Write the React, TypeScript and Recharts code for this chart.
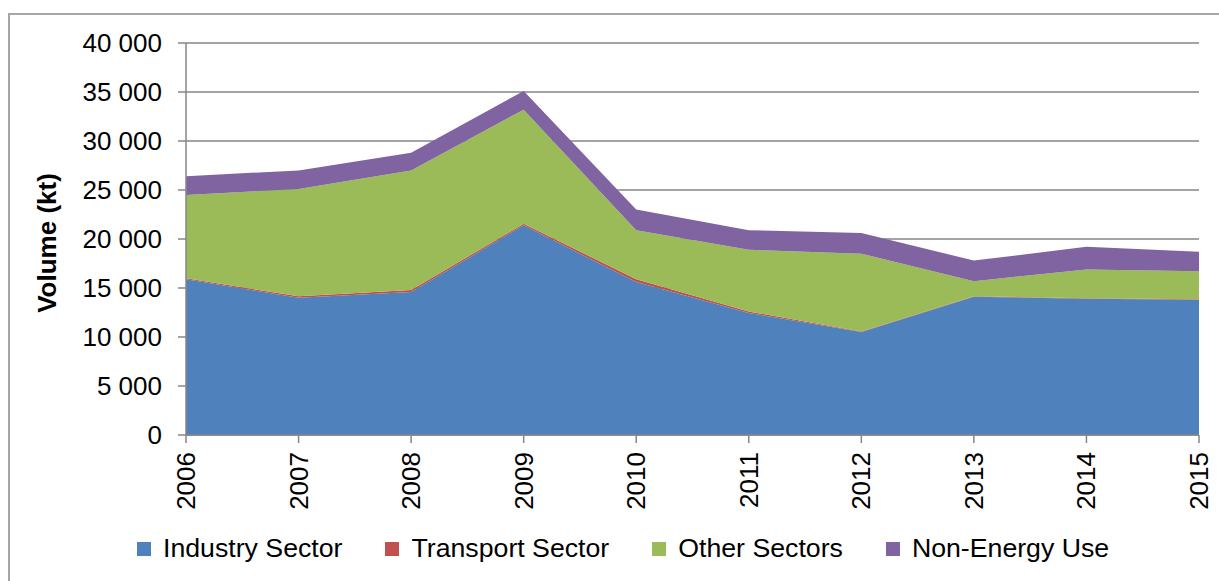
import { AreaChart, Area, XAxis, YAxis, CartesianGrid } from 'recharts'

const years = ['2006', '2007', '2008', '2009', '2010', '2011', '2012', '2013', '2014', '2015']
const industry = [15900, 14000, 14600, 21400, 15600, 12450, 10500, 14100, 13900, 13800]
const transport = [100, 150, 200, 150, 300, 150, 60, 50, 50, 50]
const other = [8500, 10950, 12200, 11650, 5000, 6300, 7940, 1550, 2950, 2850]
const nonEnergy = [1900, 1900, 1800, 1900, 2100, 2000, 2100, 2100, 2300, 2000]
const yTicks = [0, 5000, 10000, 15000, 20000, 25000, 30000, 35000, 40000]

const series = [
  { key: 'industry', name: 'Industry Sector', color: '#4F81BD' },
  { key: 'transport', name: 'Transport Sector', color: '#C0504D' },
  { key: 'other', name: 'Other Sectors', color: '#9BBB59' },
  { key: 'nonEnergy', name: 'Non-Energy Use', color: '#8064A2' },
]

const data = years.map((year, i) => ({
  year,
  industry: industry[i],
  transport: transport[i],
  other: other[i],
  nonEnergy: nonEnergy[i],
}))

const FONT = '"Liberation Sans", Arial, sans-serif'
const GREY = '#868686'

const formatY = (v: number) => (v === 0 ? '0' : `${v / 1000} 000`)

const XTick = ({ x, y, payload }: any) => (
  <text
    x={x}
    y={y}
    transform={`rotate(-90 ${x} ${y})`}
    textAnchor="end"
    dominantBaseline="central"
    fontSize={26}
    fontFamily={FONT}
    fill="#000"
  >
    {payload.value}
  </text>
)

const YLabel = ({ viewBox }: any) => {
  const cx = viewBox.x + 47
  const cy = viewBox.y + viewBox.height / 2 + 4
  return (
    <text
      x={cx}
      y={cy}
      transform={`rotate(-90 ${cx} ${cy})`}
      textAnchor="middle"
      dominantBaseline="central"
      fontSize={26}
      fontWeight="bold"
      fontFamily={FONT}
      fill="#000"
    >
      Volume (kt)
    </text>
  )
}

export default function App() {
  return (
    <div style={{ position: 'absolute', left: 0, top: 0, width: 1219, height: 581, overflow: 'hidden', background: '#fff' }}>
      <div
        style={{
          position: 'absolute',
          left: 8,
          top: 13,
          width: 1220,
          height: 580,
          border: '2px solid #a6a6a6',
        }}
      />
      <AreaChart
        width={1219}
        height={581}
        data={data}
        margin={{ top: 43, right: 20, left: 0, bottom: 66 }}
        style={{ position: 'absolute', left: 0, top: 0 }}
      >
        <CartesianGrid vertical={false} stroke={GREY} strokeWidth={1.5} />
        <XAxis
          dataKey="year"
          height={80}
          tick={<XTick />}
          tickSize={8}
          tickMargin={9}
          interval={0}
          stroke={GREY}
          axisLine={{ stroke: GREY, strokeWidth: 1.5 }}
          tickLine={{ stroke: GREY, strokeWidth: 1.5 }}
        />
        <YAxis
          width={186}
          domain={[0, 40000]}
          ticks={yTicks}
          tickFormatter={formatY}
          tickSize={8}
          tickMargin={16}
          interval={0}
          tick={{ fontSize: 26, fontFamily: FONT, fill: '#000' }}
          axisLine={{ stroke: GREY, strokeWidth: 1.5 }}
          tickLine={{ stroke: GREY, strokeWidth: 1.5 }}
          label={<YLabel />}
        />
        {series.map((s) => (
          <Area
            key={s.key}
            type="linear"
            dataKey={s.key}
            name={s.name}
            stackId="1"
            stroke="none"
            fill={s.color}
            fillOpacity={1}
            isAnimationActive={false}
          />
        ))}
      </AreaChart>
      <div
        style={{
          position: 'absolute',
          left: 137,
          top: 533,
          display: 'flex',
          alignItems: 'center',
          gap: 43,
          fontFamily: FONT,
          fontSize: 26.7,
          color: '#000',
          whiteSpace: 'nowrap',
        }}
      >
        {series.map((s) => (
          <div key={s.key} style={{ display: 'flex', alignItems: 'center', gap: 12 }}>
            <span style={{ display: 'inline-block', width: 14, height: 14, background: s.color }} />
            <span>{s.name}</span>
          </div>
        ))}
      </div>
    </div>
  )
}
